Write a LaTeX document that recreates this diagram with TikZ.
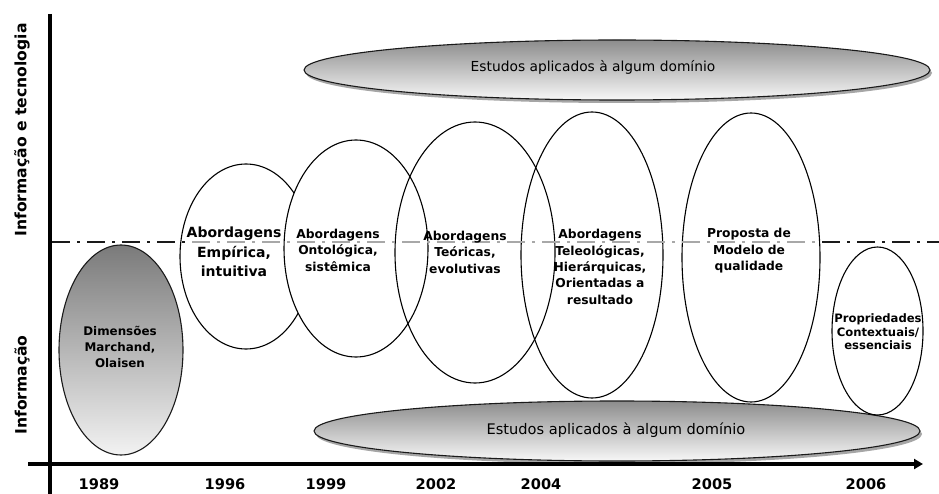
\documentclass[tikz,border=0pt]{standalone}
\usepackage{fontspec}
\setmainfont{DejaVu Sans}
\usetikzlibrary{shapes.geometric,arrows.meta}
\definecolor{lineGrey}{HTML}{A8A8A8}
\definecolor{darkLine}{HTML}{1A1A1A}
\tikzset{
  ell/.style={ellipse, draw=black, line width=1.1pt, inner sep=0pt, outer sep=0pt},
  bannerell/.style={ellipse, draw=darkLine, line width=1.1pt, inner sep=0pt, outer sep=0pt, top color=black!45, bottom color=black!3},
  txt/.style={align=center, inner sep=0pt, font=\bfseries\fontsize{12.3}{16.5}\selectfont},
  yeartxt/.style={inner sep=0pt, font=\bfseries\fontsize{14.6}{16}\selectfont},
  axistxt/.style={inner sep=0pt, rotate=90, font=\bfseries\fontsize{15.6}{18}\selectfont},
  axisline/.style={line width=4pt, black},
  dd/.style={line width=2pt, dash pattern=on 18pt off 7pt on 3pt off 7pt}
}
\begin{document}
\begin{tikzpicture}[x=1pt,y=-1pt]
\useasboundingbox (0,0) rectangle (939,494);
\fill[white] (0,0) rectangle (939,494);

% banners with soft shadow
\fill[black!35] (619,73) ellipse [x radius=313pt, y radius=30pt];
\node[bannerell, minimum width=626pt, minimum height=60pt] (topban) at (617,70) {};
\fill[black!35] (619,434) ellipse [x radius=303pt, y radius=30pt];
\node[bannerell, minimum width=606pt, minimum height=60pt] (botban) at (617,431) {};

% 1989 ellipse
\node[ell, draw=darkLine, top color=black!52, bottom color=black!5, minimum width=124pt, minimum height=210pt] (e89) at (121,350) {};

% approach ellipses
\node[ell, minimum width=132pt, minimum height=185pt] (e96) at (246,256.5) {};
\node[ell, fill=white, minimum width=144pt, minimum height=217pt] (e99) at (356,248.5) {};
\node[ell, minimum width=160pt, minimum height=261pt] (e02) at (475,252.5) {};
\node[ell, minimum width=142pt, minimum height=286pt] (e04) at (592,255) {};
\node[ell, minimum width=138pt, minimum height=289pt] (e05) at (751,257.5) {};
\node[ell, fill=white, minimum width=91pt, minimum height=168pt] (e06) at (877.5,331) {};

% dash-dot separator
\coordinate (dA) at (52,242);
\coordinate (dB) at (192,242);
\coordinate (dC) at (822,242);
\coordinate (dD) at (939,242);
\draw[dd, darkLine] (dA) -- (dB);
\draw[dd, lineGrey] (dB) -- (dC);
\draw[dd, darkLine] (dC) -- (dD);

% axes
\coordinate (vtop) at (50,14);
\coordinate (vbot) at (50,494);
\coordinate (hl) at (28,464);
\coordinate (hr) at (923,464);
\draw[axisline] (vtop) -- (vbot);
\draw[axisline, -{Triangle[length=9pt,width=10pt]}] (hl) -- (hr);

% texts
\node[txt, font=\bfseries\fontsize{11.9}{16}\selectfont] (t89) at (120,347) {Dimensões\\Marchand,\\Olaisen};
\node[txt, font=\bfseries\fontsize{14}{19.5}\selectfont] (t96) at (234,252) {Abordagens\\Empírica,\\intuitiva};
\node[txt] (t99) at (338,250) {Abordagens\\Ontológica,\\sistêmica};
\node[txt] (t02) at (465,252) {Abordagens\\Teóricas,\\evolutivas};
\node[txt, font=\bfseries\fontsize{12.3}{16.3}\selectfont] (t04) at (600,267) {Abordagens\\Teleológicas,\\Hierárquicas,\\Orientadas a\\resultado};
\node[txt] (t05) at (749,251) {Proposta de\\Modelo de\\qualidade};
\node[txt, font=\bfseries\fontsize{11.6}{13.5}\selectfont] (t06) at (878,332) {Propriedades\\Contextuais/\\essenciais};

\node[inner sep=0pt, font=\fontsize{13.8}{16}\selectfont] (ttop) at (593,67) {Estudos aplicados à algum domínio};
\node[inner sep=0pt, font=\fontsize{14.6}{17}\selectfont] (tbot) at (616,430) {Estudos aplicados à algum domínio};

\node[axistxt] (ylab1) at (22,130) {Informação e tecnologia};
\node[axistxt] (ylab2) at (22,385) {Informação};

\node[yeartxt] (y89) at (99,484) {1989};
\node[yeartxt] (y96) at (225,484) {1996};
\node[yeartxt] (y99) at (326,484) {1999};
\node[yeartxt] (y02) at (436,484) {2002};
\node[yeartxt] (y04) at (541,484) {2004};
\node[yeartxt] (y05) at (712,484) {2005};
\node[yeartxt] (y06) at (866,484) {2006};
\end{tikzpicture}
\end{document}
